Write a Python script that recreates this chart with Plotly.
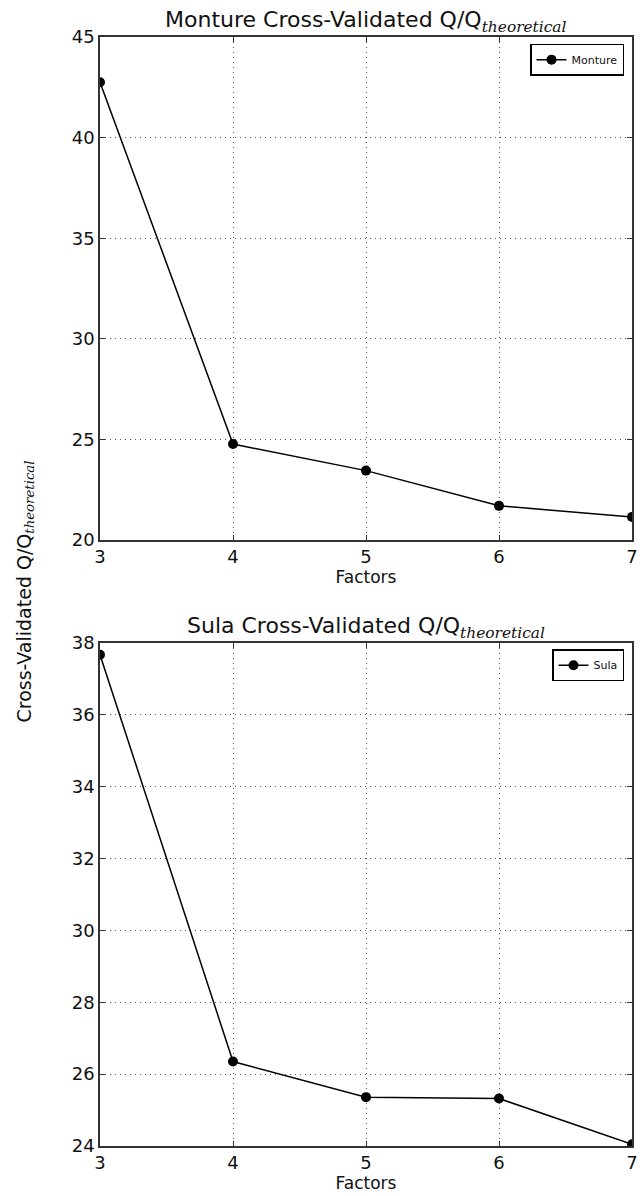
import plotly.graph_objects as go

# Cross-validated Q/Q_theoretical versus number of factors, two sites
factors = [3, 4, 5, 6, 7]
monture_q = [42.75, 24.77, 23.45, 21.7, 21.15]
sula_q = [37.67, 26.35, 25.36, 25.32, 24.05]

monture_yticks = [20, 25, 30, 35, 40, 45]
sula_yticks = [24, 26, 28, 30, 32, 34, 36, 38]

SUB = "<sub><span style='font-family:DejaVu Serif;font-style:italic'>theoretical</span></sub>"
FONT = "DejaVu Sans"
AXIS_COLOR = "#333333"

fig = go.Figure()

fig.add_trace(go.Scatter(
    x=factors, y=monture_q, name="Monture", mode="lines+markers",
    line=dict(color="black", width=1.5),
    marker=dict(color="black", size=10),
    xaxis="x", yaxis="y", legend="legend",
))
fig.add_trace(go.Scatter(
    x=factors, y=sula_q, name="Sula", mode="lines+markers",
    line=dict(color="black", width=1.5),
    marker=dict(color="black", size=10),
    xaxis="x2", yaxis="y2", legend="legend2",
))

axis_common = dict(
    showline=True, linecolor=AXIS_COLOR, linewidth=1.5, mirror="ticks",
    ticks="inside", ticklen=5, tickcolor=AXIS_COLOR, tickwidth=1,
    showgrid=True, gridcolor="#555555", griddash="1px,4px", gridwidth=1,
    zeroline=False, tickfont=dict(family=FONT, size=18, color="#111"),
)

top_dom = [0.5464, 1.0]
bot_dom = [0.0, 0.4536]

legend_common = dict(
    xanchor="right", yanchor="top", bordercolor="black", borderwidth=1.5,
    bgcolor="white", font=dict(size=11), itemwidth=30, tracegroupgap=0,
)

fig.update_layout(
    width=643, height=1196,
    margin=dict(l=100, r=5, t=37, b=50),
    paper_bgcolor="white", plot_bgcolor="white",
    font=dict(family=FONT, color="#111"),
    xaxis=dict(axis_common, domain=[0, 1], anchor="y", range=[3, 7],
               tickvals=factors, title=dict(text="Factors", font=dict(size=17), standoff=2)),
    yaxis=dict(axis_common, domain=top_dom, anchor="x", range=[20, 45],
               tickvals=monture_yticks),
    xaxis2=dict(axis_common, domain=[0, 1], anchor="y2", range=[3, 7],
                tickvals=factors, title=dict(text="Factors", font=dict(size=17), standoff=2)),
    yaxis2=dict(axis_common, domain=bot_dom, anchor="x2", range=[24, 38],
                tickvals=sula_yticks),
    legend=dict(legend_common, x=0.985, y=0.994),
    legend2=dict(legend_common, x=0.985, y=0.448),
    showlegend=True,
)

fig.add_annotation(text="Monture Cross-Validated Q/Q" + SUB, xref="paper", yref="paper",
                   x=0.5, y=1.0, xanchor="center", yanchor="bottom", yshift=-1,
                   showarrow=False, font=dict(size=22, family=FONT))
fig.add_annotation(text="Sula Cross-Validated Q/Q" + SUB, xref="paper", yref="paper",
                   x=0.5, y=bot_dom[1], xanchor="center", yanchor="bottom", yshift=-1,
                   showarrow=False, font=dict(size=22, family=FONT))
fig.add_annotation(text="Cross-Validated Q/Q" + SUB, xref="paper", yref="paper",
                   x=0, y=0.5, xanchor="center", yanchor="middle", xshift=-75,
                   textangle=-90, showarrow=False, font=dict(size=19, family=FONT))

fig.write_html("out.html")
